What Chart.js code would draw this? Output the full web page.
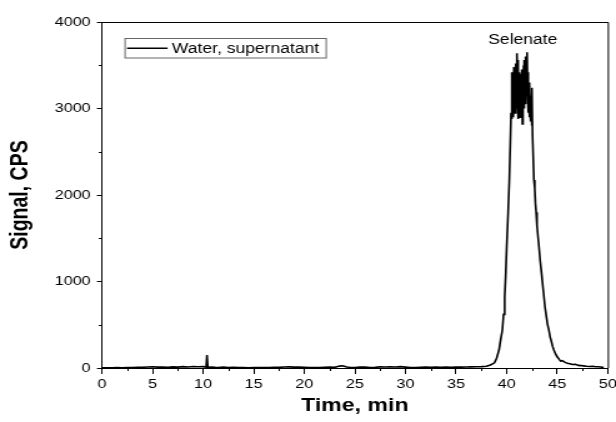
<!DOCTYPE html>
<html>
<head>
<meta charset="utf-8">
<script src="https://cdn.jsdelivr.net/npm/chart.js@4.4.1/dist/chart.umd.min.js"></script>
<style>
html,body{margin:0;padding:0;background:#fff;overflow:hidden}
canvas{display:block}
</style>
</head>
<body>
<canvas id="c" width="493" height="422" style="width:616px;height:422px"></canvas>
<script>
// ---- chart content ----
const seriesLabel = 'Water, supernatant';
const peakLabel = 'Selenate';
const peakLabelTime = [41.6];
const xAxisTitle = 'Time, min';
const yAxisTitle = 'Signal, CPS';
const xRange = [0, 50];
const yRange = [0, 4000];
const xTickStep = [5];
const yTickStep = [1000];

// retention time (min)
const timeMin = [
  0, 0.5, 1, 1.5, 2, 2.5, 3, 3.5, 4, 4.5, 5, 5.5, 6, 6.5, 7, 7.5, 8, 8.5, 9, 9.5, 10,
  10.3, 10.38, 10.46, 10.8, 11.2, 11.5, 12, 12.5, 13, 13.5, 14, 14.5, 15, 15.5, 16, 16.5,
  17, 17.5, 18, 18.5, 19, 19.5, 20, 20.5, 21, 21.5, 22, 22.5, 23, 23.5, 23.8, 24.2, 24.5,
  25, 25.5, 26, 26.5, 27, 27.5, 28, 28.5, 29, 29.5, 30, 30.5, 31, 31.5, 32, 32.5, 33, 33.5,
  34, 34.5, 35, 35.5, 36, 36.5, 37, 37.5, 38, 38.4, 38.8, 39.0, 39.25, 39.4, 39.58, 39.7,
  39.81, 39.9, 40.01, 40.15, 40.27, 40.4,
  40.44, 40.48, 40.52, 40.56, 40.60, 40.64, 40.68, 40.72, 40.76, 40.80, 40.84, 40.88,
  40.92, 40.96, 41.00, 41.04, 41.08, 41.12, 41.16, 41.20, 41.24, 41.28, 41.32, 41.36,
  41.40, 41.44, 41.48, 41.52, 41.56, 41.60, 41.64, 41.68, 41.72, 41.76, 41.80, 41.84,
  41.88, 41.92, 41.96, 42.00, 42.04, 42.08, 42.12, 42.16, 42.20, 42.24, 42.28, 42.32,
  42.36, 42.40, 42.44, 42.48, 42.52, 42.56,
  42.70, 42.78, 42.85, 42.92, 43.00, 43.10, 43.20, 43.32, 43.45, 43.57, 43.69, 43.80,
  43.90, 44.05, 44.18, 44.30, 44.40, 44.55, 44.67, 44.85, 45.0, 45.2, 45.34, 45.5, 45.7,
  45.85, 46.0, 46.25, 46.5, 46.8, 47.1, 47.35, 47.6, 47.9, 48.2, 48.5, 48.8, 49.05, 49.3, 49.6
];

// signal (counts per second)
const signalCps = [
  2, 3, 1, 4, 2, 5, 6, 9, 8, 12, 14, 10, 12, 8, 13, 10, 16, 12, 18, 14, 16,
  10, 150, 8, 12, 8, 6, 10, 5, 7, 4, 6, 3, 5, 4, 6, 5,
  8, 7, 11, 13, 10, 12, 8, 5, 6, 4, 7, 10, 8, 22, 26, 12, 8,
  6, 10, 11, 6, 8, 13, 11, 15, 12, 16, 10, 5, 6, 8, 10, 7, 11, 9,
  10, 8, 12, 10, 11, 13, 15, 16, 20, 35, 60, 110, 208, 320, 439, 620,
  824, 1050, 1402, 1800, 2173, 2751,
  2950, 3350, 2880, 3420, 3000, 3300, 2900, 3480, 3050, 3380, 2950, 3520,
  3100, 3450, 3000, 3640, 3150, 3560, 2880, 3420, 3050, 3350, 2900, 3300,
  3100, 3400, 2950, 3450, 2820, 3380, 3100, 3500, 3000, 3560, 3150, 3520,
  3050, 3600, 3200, 3580, 3650, 3150, 3420, 2950, 3300, 2900, 3250, 3000,
  3150, 2850, 3100, 2800, 3240, 2700,
  2173, 2080, 1900, 1800, 1650, 1520, 1402, 1240, 1100, 960, 824, 700,
  620, 500, 439, 360, 320, 250, 208, 160, 130, 100, 80, 85, 70,
  62, 55, 50, 40, 42, 30, 28, 25, 20, 18, 20, 15, 14, 12, 5
];

const points = timeMin.map((t, i) => ({x: t, y: signalCps[i]}));

const FONT = "'Liberation Sans', Arial, Helvetica, sans-serif";

// minor ticks, frame, legend box and peak label
const decorPlugin = {
  id: 'decor',
  afterDraw(chart) {
    const {ctx, chartArea: a, scales: {x, y}} = chart;
    ctx.save();
    ctx.strokeStyle = '#000';
    ctx.lineWidth = 1;
    // frame (top and right)
    ctx.beginPath();
    ctx.moveTo(a.left, a.top + 0.5);
    ctx.lineTo(a.right + 0.5, a.top + 0.5);
    ctx.lineTo(a.right + 0.5, a.bottom);
    ctx.stroke();
    // minor ticks
    ctx.beginPath();
    for (let v = xRange[0] + xTickStep[0] / 2; v < xRange[1]; v += xTickStep[0]) {
      const px = Math.round(x.getPixelForValue(v)) + 0.5;
      ctx.moveTo(px, a.bottom);
      ctx.lineTo(px, a.bottom + 3);
    }
    for (let v = yRange[0] + yTickStep[0] / 2; v < yRange[1]; v += yTickStep[0]) {
      const py = Math.round(y.getPixelForValue(v)) + 0.5;
      ctx.moveTo(a.left, py);
      ctx.lineTo(a.left - 2.5, py);
    }
    ctx.stroke();
    // legend box
    const lx = a.left + 18.5, ly = 38.5, lw = 161, lh = 19.5;
    ctx.strokeStyle = '#666';
    ctx.lineWidth = 1;
    ctx.strokeRect(lx, ly, lw, lh);
    ctx.strokeStyle = '#000';
    ctx.lineWidth = 1.5;
    ctx.beginPath();
    ctx.moveTo(lx + 1.5, ly + lh / 2);
    ctx.lineTo(lx + 34, ly + lh / 2);
    ctx.stroke();
    ctx.fillStyle = '#000';
    ctx.font = '14px ' + FONT;
    ctx.textBaseline = 'middle';
    ctx.textAlign = 'left';
    ctx.fillText(chart.data.datasets[0].label, lx + 37.5, ly + lh / 2 + 0.5);
    // peak label
    ctx.textAlign = 'center';
    ctx.textBaseline = 'alphabetic';
    ctx.fillText(peakLabel, x.getPixelForValue(peakLabelTime[0]), 44);
    ctx.restore();
  }
};

new Chart(document.getElementById('c'), {
  type: 'line',
  data: {
    datasets: [{
      label: seriesLabel,
      data: points,
      borderColor: '#000',
      backgroundColor: '#000',
      borderWidth: 1.6,
      pointRadius: 0,
      tension: 0,
      fill: false
    }]
  },
  options: {
    responsive: false,
    devicePixelRatio: 1,
    animation: false,
    events: [],
    layout: {padding: {left: 0, top: 22, right: 6.6, bottom: 0}},
    plugins: {legend: {display: false}, tooltip: {enabled: false}},
    scales: {
      x: {
        type: 'linear',
        min: xRange[0], max: xRange[1],
        border: {display: true, color: '#000', width: 1},
        grid: {drawOnChartArea: false, drawTicks: true, tickLength: 6, tickColor: '#000', color: '#000'},
        ticks: {stepSize: xTickStep[0], color: '#000', font: {family: FONT, size: 13}, padding: 3, maxRotation: 0, autoSkip: false,
                callback: v => String(v)},
        title: {display: true, text: xAxisTitle, color: '#000', font: {family: FONT, size: 18.5, weight: 'bold'}, padding: {top: 0, bottom: 5}},
        afterFit(s) { s.height = 54; s.paddingLeft = 0; s.paddingRight = 0; }
      },
      y: {
        min: yRange[0], max: yRange[1],
        border: {display: true, color: '#000', width: 1},
        grid: {drawOnChartArea: false, drawTicks: true, tickLength: 4, tickColor: '#000', color: '#000'},
        ticks: {stepSize: yTickStep[0], color: '#000', font: {family: FONT, size: 13}, padding: 5,
                callback: v => String(v)},
        title: {display: true, text: yAxisTitle, color: '#000', font: {family: FONT, size: 19.5, weight: 'bold'}, padding: {top: 5, bottom: 0}},
        afterFit(s) { s.width = 81.6; }
      }
    }
  },
  plugins: [decorPlugin]
});
</script>
</body>
</html>
